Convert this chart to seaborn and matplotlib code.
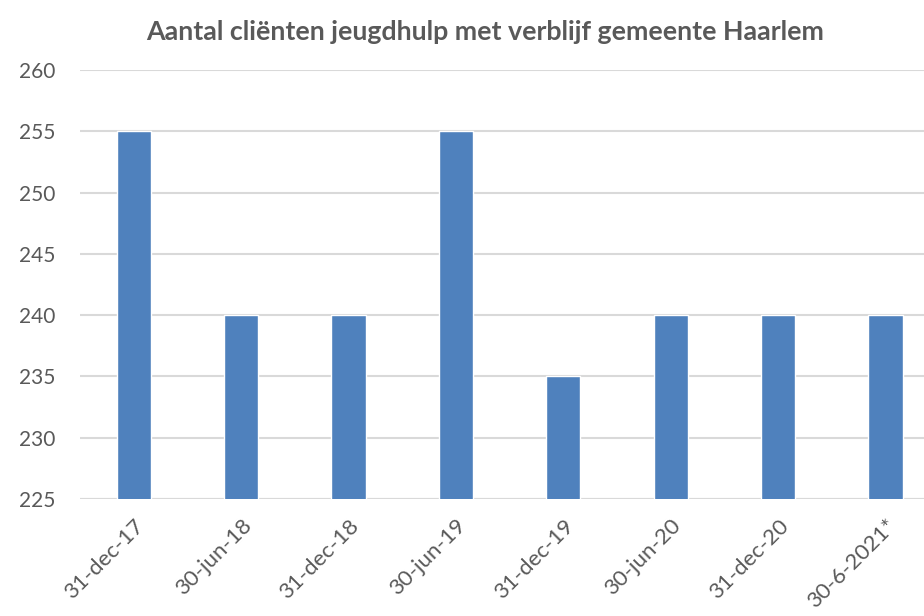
import pandas as pd
import matplotlib
matplotlib.use("Agg")
import matplotlib.pyplot as plt
import seaborn as sns

# Data
dates = ["31-dec-17", "30-jun-18", "31-dec-18", "30-jun-19",
         "31-dec-19", "30-jun-20", "31-dec-20", "30-6-2021*"]
clients = [255, 240, 240, 255, 235, 240, 240, 240]
yticks = [225, 230, 235, 240, 245, 250, 255, 260]

df = pd.DataFrame({"datum": dates, "aantal": clients})

sns.set_theme(style="white")
plt.rcParams["font.family"] = ["Lato", "DejaVu Sans"]

fig = plt.figure(figsize=(9.24, 6.16), dpi=100)
ax = fig.add_axes([80 / 924, 1 - 499 / 616, 1 - 80 / 924, (499 - 70) / 616])

sns.barplot(data=df, x="datum", y="aantal", color="#4F81BD", saturation=1,
            width=0.32, ax=ax)

ax.set_ylim(225, 260)
ax.set_yticks(yticks)
ax.set_xlim(-0.5, (924 - 80) / 107.4 - 0.5)
ax.yaxis.grid(True, color="#D9D9D9", linewidth=1.5)
ax.set_axisbelow(True)
for s in ax.spines.values():
    s.set_visible(False)
ax.axhline(225, color="#D9D9D9", linewidth=1.5, zorder=0)

ax.set_xlabel("")
ax.set_ylabel("")
ax.tick_params(axis="both", length=0, colors="#595959")
ax.tick_params(axis="y", pad=18, labelsize=15)
ax.tick_params(axis="x", pad=12, labelsize=16)
plt.setp(ax.get_xticklabels(), rotation=45, ha="right", rotation_mode="anchor")

fig.suptitle("Aantal cliënten jeugdhulp met verblijf gemeente Haarlem",
             x=0.525, y=0.968, fontsize=19.3, fontweight="bold", color="#595959")

fig.savefig("out.png", dpi=100)
